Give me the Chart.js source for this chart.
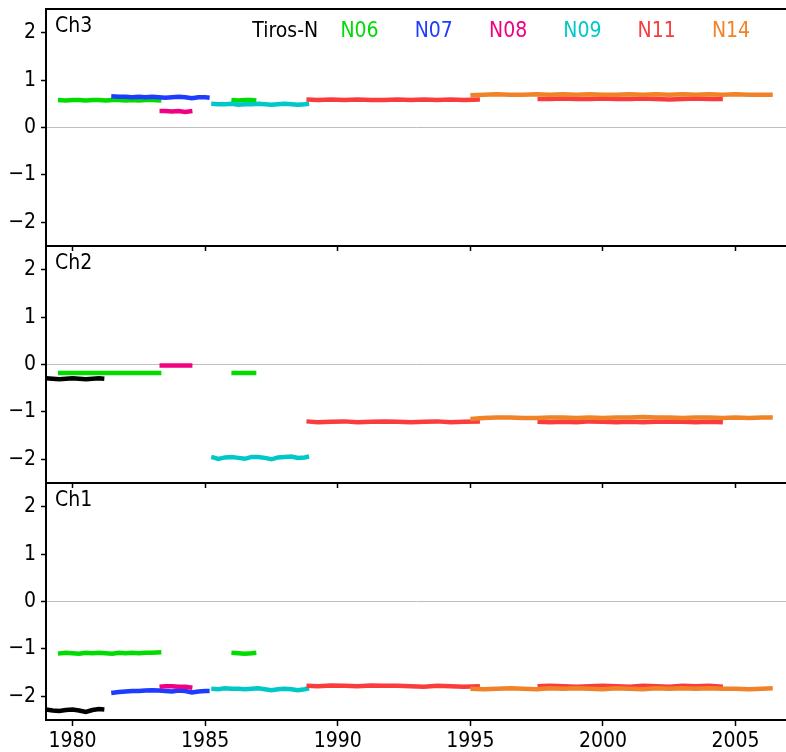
<!DOCTYPE html>
<html>
<head>
<meta charset="utf-8">
<script src="https://cdn.jsdelivr.net/npm/chart.js@4.4.1/dist/chart.umd.min.js"></script>
<style>
  html, body { margin: 0; padding: 0; background: #ffffff; }
  #wrap { position: relative; width: 786px; height: 752px; }
</style>
</head>
<body>
<div id="wrap"><canvas id="c" width="786" height="752"></canvas></div>
<script>
// ---------------- DATA ----------------
const xTicks = [1980, 1985, 1990, 1995, 2000, 2005];
const yTicks = [-2.5, -2, -1, 0, 1, 2, 2.5];
const panelNames = ['Ch3', 'Ch2', 'Ch1'];
const satNames = ['Tiros-N', 'N06', 'N07', 'N08', 'N09', 'N11', 'N14'];

// Tiros-N
const tirosTimes = [1979.0, 1979.25, 1979.5, 1979.75, 1980.0, 1980.25, 1980.5, 1980.75, 1981.0, 1981.2];
const tirosCh3 = [];
const tirosCh2 = [-0.29, -0.30, -0.31, -0.30, -0.29, -0.30, -0.31, -0.30, -0.29, -0.30];
const tirosCh1 = [-2.28, -2.30, -2.31, -2.29, -2.28, -2.30, -2.33, -2.29, -2.27, -2.28];

// NOAA-6 (two periods, gap marked with null)
const n06Times = [1979.45, 1979.75, 1980.0, 1980.25, 1980.5, 1980.75, 1981.0, 1981.25, 1981.5, 1981.75, 1982.0, 1982.25, 1982.5, 1982.75, 1983.0, 1983.35, 1984.6, 1985.99, 1986.25, 1986.5, 1986.75, 1986.93];
const n06Ch3 = [0.58, 0.57, 0.58, 0.58, 0.57, 0.58, 0.58, 0.57, 0.58, 0.58, 0.57, 0.58, 0.57, 0.58, 0.58, 0.57, null, 0.58, 0.57, 0.58, 0.58, 0.57];
const n06Ch2 = [-0.18, -0.18, -0.18, -0.18, -0.18, -0.18, -0.18, -0.18, -0.18, -0.18, -0.18, -0.18, -0.18, -0.18, -0.18, -0.18, null, -0.18, -0.18, -0.18, -0.18, -0.18];
const n06Ch1 = [-1.10, -1.08, -1.09, -1.10, -1.08, -1.09, -1.08, -1.09, -1.10, -1.08, -1.09, -1.08, -1.09, -1.08, -1.08, -1.07, null, -1.08, -1.09, -1.10, -1.09, -1.08];

// NOAA-7
const n07Times = [1981.46, 1981.75, 1982.0, 1982.25, 1982.5, 1982.75, 1983.0, 1983.25, 1983.5, 1983.75, 1984.0, 1984.25, 1984.5, 1984.75, 1985.0, 1985.17];
const n07Ch3 = [0.66, 0.65, 0.65, 0.64, 0.65, 0.64, 0.65, 0.64, 0.63, 0.64, 0.65, 0.64, 0.62, 0.64, 0.64, 0.63];
const n07Ch2 = [];
const n07Ch1 = [-1.93, -1.91, -1.90, -1.89, -1.89, -1.88, -1.87, -1.88, -1.89, -1.90, -1.88, -1.89, -1.92, -1.90, -1.89, -1.89];

// NOAA-8
const n08Times = [1983.28, 1983.5, 1983.75, 1984.0, 1984.25, 1984.52];
const n08Ch3 = [0.35, 0.35, 0.34, 0.35, 0.33, 0.35];
const n08Ch2 = [-0.02, -0.02, -0.02, -0.02, -0.02, -0.02];
const n08Ch1 = [-1.80, -1.79, -1.79, -1.80, -1.80, -1.82];

// NOAA-9
const n09Times = [1985.23, 1985.5, 1985.75, 1986.0, 1986.25, 1986.5, 1986.75, 1987.0, 1987.25, 1987.5, 1987.75, 1988.0, 1988.25, 1988.5, 1988.75, 1988.92];
const n09Ch3 = [0.50, 0.49, 0.49, 0.50, 0.48, 0.49, 0.49, 0.50, 0.49, 0.48, 0.49, 0.50, 0.49, 0.48, 0.49, 0.50];
const n09Ch2 = [-1.95, -1.99, -1.96, -1.95, -1.97, -1.99, -1.95, -1.95, -1.97, -2.00, -1.96, -1.95, -1.94, -1.97, -1.96, -1.94];
const n09Ch1 = [-1.84, -1.85, -1.83, -1.84, -1.84, -1.85, -1.84, -1.83, -1.85, -1.87, -1.85, -1.84, -1.85, -1.87, -1.85, -1.83];

// NOAA-11 (two periods)
const n11Times = [1988.82, 1989.25, 1989.75, 1990.25, 1990.75, 1991.25, 1991.75, 1992.25, 1992.75, 1993.25, 1993.75, 1994.25, 1994.75, 1995.36, 1996.5, 1997.53, 1998.0, 1998.5, 1999.0, 1999.5, 2000.0, 2000.5, 2001.0, 2001.5, 2002.0, 2002.5, 2003.0, 2003.5, 2004.0, 2004.52];
const n11Ch3 = [0.59, 0.58, 0.59, 0.58, 0.59, 0.58, 0.58, 0.59, 0.58, 0.59, 0.58, 0.59, 0.58, 0.59, null, 0.60, 0.60, 0.61, 0.60, 0.60, 0.61, 0.60, 0.60, 0.61, 0.60, 0.59, 0.60, 0.61, 0.60, 0.60];
const n11Ch2 = [-1.20, -1.22, -1.21, -1.20, -1.22, -1.21, -1.20, -1.21, -1.22, -1.21, -1.20, -1.22, -1.21, -1.20, null, -1.21, -1.22, -1.21, -1.22, -1.20, -1.21, -1.22, -1.21, -1.22, -1.21, -1.20, -1.21, -1.22, -1.21, -1.22];
const n11Ch1 = [-1.78, -1.79, -1.77, -1.78, -1.79, -1.77, -1.78, -1.78, -1.79, -1.80, -1.78, -1.79, -1.80, -1.79, null, -1.79, -1.78, -1.79, -1.80, -1.79, -1.78, -1.79, -1.80, -1.78, -1.79, -1.80, -1.78, -1.79, -1.78, -1.80];

// NOAA-14
const n14Times = [1995.0, 1995.5, 1996.0, 1996.5, 1997.0, 1997.5, 1998.0, 1998.5, 1999.0, 1999.5, 2000.0, 2000.5, 2001.0, 2001.5, 2002.0, 2002.5, 2003.0, 2003.5, 2004.0, 2004.5, 2005.0, 2005.5, 2006.0, 2006.4];
const n14Ch3 = [0.68, 0.69, 0.70, 0.69, 0.69, 0.70, 0.69, 0.70, 0.69, 0.70, 0.69, 0.69, 0.70, 0.69, 0.70, 0.69, 0.70, 0.69, 0.70, 0.69, 0.70, 0.69, 0.69, 0.69];
const n14Ch2 = [-1.15, -1.13, -1.12, -1.12, -1.13, -1.13, -1.12, -1.12, -1.13, -1.12, -1.13, -1.12, -1.12, -1.11, -1.12, -1.12, -1.13, -1.12, -1.12, -1.13, -1.12, -1.13, -1.12, -1.12];
const n14Ch1 = [-1.84, -1.85, -1.84, -1.83, -1.84, -1.85, -1.83, -1.84, -1.83, -1.84, -1.85, -1.83, -1.84, -1.85, -1.83, -1.84, -1.83, -1.84, -1.83, -1.84, -1.84, -1.85, -1.84, -1.83];

// ---------------- STYLE ----------------
const satColors = ['#000000', 'rgb(0,220,0)', 'rgb(30,60,255)', 'rgb(240,0,130)', 'rgb(0,200,200)', 'rgb(250,60,60)', 'rgb(240,130,40)'];
const FONT = '"Liberation Sans Narrow", "DejaVu Sans Condensed", "Liberation Sans", sans-serif';

const sats = [
  { times: tirosTimes, ch: { y3: tirosCh3, y2: tirosCh2, y1: tirosCh1 } },
  { times: n06Times, ch: { y3: n06Ch3, y2: n06Ch2, y1: n06Ch1 } },
  { times: n07Times, ch: { y3: n07Ch3, y2: n07Ch2, y1: n07Ch1 } },
  { times: n08Times, ch: { y3: n08Ch3, y2: n08Ch2, y1: n08Ch1 } },
  { times: n09Times, ch: { y3: n09Ch3, y2: n09Ch2, y1: n09Ch1 } },
  { times: n11Times, ch: { y3: n11Ch3, y2: n11Ch2, y1: n11Ch1 } },
  { times: n14Times, ch: { y3: n14Ch3, y2: n14Ch2, y1: n14Ch1 } }
];

const datasets = [];
// later satellites drawn first (underneath), Tiros-N drawn last
for (let s = sats.length - 1; s >= 0; s--) {
  ['y3', 'y2', 'y1'].forEach(axisId => {
    const vals = sats[s].ch[axisId];
    if (!vals.length) return;
    datasets.push({
      label: satNames[s] + ' ' + axisId,
      data: sats[s].times.map((t, i) => ({ x: t, y: vals[i] })),
      borderColor: satColors[s],
      backgroundColor: satColors[s],
      borderWidth: 4.5,
      pointRadius: 0,
      tension: 0,
      spanGaps: false,
      xAxisID: 'x',
      yAxisID: axisId
    });
  });
}

function yScale(w) {
  return {
    type: 'linear', position: 'left', stack: 'panels', stackWeight: 1, weight: w,
    min: -2.5, max: 2.5,
    afterBuildTicks: sc => { sc.ticks = yTicks.map(v => ({ value: v })); },
    afterFit: sc => { sc.width = 46; sc.paddingTop = 0; sc.paddingBottom = 0; },
    border: { display: true, color: '#000', width: 2 },
    grid: {
      color: c => (c.tick && c.tick.value === 0) ? '#bdbdbd' : ((c.tick && Math.abs(c.tick.value) === 2.5) ? '#000' : 'rgba(0,0,0,0)'),
      lineWidth: c => (c.tick && Math.abs(c.tick.value) === 2.5) ? 2 : 1,
      tickColor: c => (c.tick && Math.abs(c.tick.value) === 2.5) ? 'rgba(0,0,0,0)' : '#000',
      tickLength: 5, tickWidth: 1.5
    },
    ticks: {
      color: '#000', padding: 5, autoSkip: false, font: { family: FONT, size: 21 },
      callback: v => (Math.abs(v) === 2.5 ? '' : (v < 0 ? '\u2212' + Math.abs(v) : String(v)))
    }
  };
}

function xTopTicks(panelAxis) {
  return {
    type: 'linear', axis: 'x', position: { [panelAxis]: 2.5 }, min: 1979, max: 2006.9,
    afterBuildTicks: sc => { sc.ticks = xTicks.map(v => ({ value: v })); },
    afterFit: sc => { sc.paddingLeft = 0; sc.paddingRight = 0; },
    grid: { drawOnChartArea: false, tickLength: 5, tickColor: '#000', tickWidth: 1.5 },
    border: { display: false },
    ticks: { display: false, autoSkip: false }
  };
}

const panelText = {
  id: 'panelText',
  afterDraw(chart) {
    const ctx = chart.ctx, a = chart.chartArea;
    ctx.save();
    ctx.font = '21px ' + FONT;
    ctx.textBaseline = 'alphabetic';
    ctx.fillStyle = '#000';
    ctx.textAlign = 'left';
    ['y3', 'y2', 'y1'].forEach((id, i) => {
      ctx.fillText(panelNames[i], a.left + 9, chart.scales[id].top + 22.5);
    });
    ctx.textAlign = 'center';
    const top = chart.scales.y3.top;
    satNames.forEach((n, i) => {
      ctx.fillStyle = satColors[i];
      ctx.fillText(n, a.right - 55 - (satNames.length - 1 - i) * 74.3, top + 27.5);
    });
    ctx.restore();
  }
};

new Chart(document.getElementById('c'), {
  type: 'line',
  data: { datasets },
  options: {
    responsive: false,
    animation: false,
    devicePixelRatio: 1,
    layout: { padding: { top: 9, right: 0, bottom: 0, left: 0 } },
    plugins: { legend: { display: false }, tooltip: { enabled: false } },
    scales: {
      x: {
        type: 'linear', position: 'bottom', min: 1979, max: 2006.9,
        afterBuildTicks: sc => { sc.ticks = xTicks.map(v => ({ value: v })); },
        afterFit: sc => { sc.height = 32; sc.paddingLeft = 0; sc.paddingRight = 0; },
        grid: { drawOnChartArea: false, tickLength: 6, tickColor: '#000', tickWidth: 1.5 },
        border: { display: false },
        ticks: { color: '#000', padding: 3, maxRotation: 0, autoSkip: false, font: { family: FONT, size: 21 }, callback: v => String(v) }
      },
      y1: yScale(1),
      y2: yScale(2),
      y3: yScale(3),
      x2t: xTopTicks('y2'),
      x1t: xTopTicks('y1')
    }
  },
  plugins: [panelText]
});
</script>
</body>
</html>
